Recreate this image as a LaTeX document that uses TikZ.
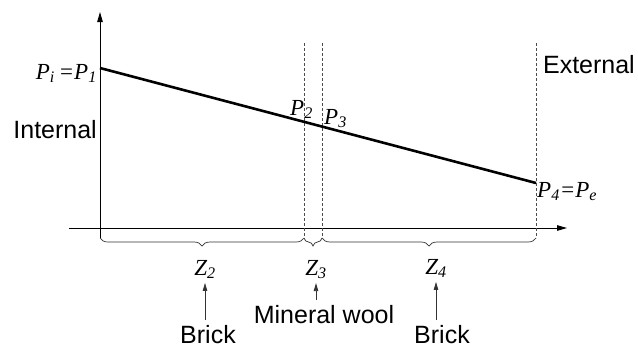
\documentclass[tikz,border=0pt]{standalone}
\usepackage{fontspec}
\setmainfont{Liberation Serif}
\setsansfont{Liberation Sans}
\usetikzlibrary{arrows.meta,decorations.pathreplacing}

\begin{document}
\begin{tikzpicture}[
  x=1bp,y=-1bp,
  lbl/.style={font=\sffamily\fontsize{25bp}{29bp}\selectfont,inner sep=0pt},
  pt/.style={font=\fontsize{23bp}{26bp}\selectfont\itshape,inner sep=0pt},
  axis/.style={black,line width=0.9bp,-{Triangle[length=10bp,width=5.5bp]}},
  wall/.style={black!70,line width=0.8bp,dash pattern=on 3bp off 2bp},
  brc/.style={black!80,line width=0.7bp,decorate,decoration={brace,mirror,amplitude=8bp}},
  up/.style={black!80,line width=0.8bp,shorten <=5bp,shorten >=4bp,-{Triangle[length=8bp,width=4.5bp]}},
  prof/.style={black,line width=2.6bp}
]
  \useasboundingbox (0,0) rectangle (638,347);

  \coordinate (o) at (100,238);
  \coordinate (yt) at (100,12);
  \coordinate (xl) at (69,228);
  \coordinate (xr) at (567,228);
  \coordinate (t2) at (304,43);
  \coordinate (b2) at (304,238);
  \coordinate (t3) at (322,43);
  \coordinate (b3) at (322,238);
  \coordinate (t4) at (536,43);
  \coordinate (b4) at (536,238);
  \coordinate (p1) at (100,68);
  \coordinate (p4) at (536,183);

  \node[lbl,anchor=base east] (int) at (97,138) {Internal};
  \node[lbl,anchor=base east] (ext) at (635,73) {External};
  \node[pt,anchor=base east] (pi) at (97,79) {P\textsubscript{i}\,=P\textsubscript{1}};
  \node[pt,anchor=base west] (l2) at (290,115) {P\textsubscript{2}};
  \node[pt,anchor=base west] (l3) at (324,124) {P\textsubscript{3}};
  \node[pt,anchor=base west] (pe) at (537,197) {P\textsubscript{4}=P\textsubscript{e}};
  \node[pt,anchor=base] (z2) at (205,275) {Z\textsubscript{2}};
  \node[pt,anchor=base] (z3) at (316,275) {Z\textsubscript{3}};
  \node[pt,anchor=base] (z4) at (436,274) {Z\textsubscript{4}};
  \node[lbl,anchor=base] (bk2) at (208,343) {Brick};
  \node[lbl,anchor=base] (mw) at (324,323) {Mineral wool};
  \node[lbl,anchor=base] (bk4) at (442,343) {Brick};

  \draw[axis] (o)--(yt);
  \draw[axis] (xl)--(xr);
  \draw[wall] (t2)--(b2);
  \draw[wall] (t3)--(b3);
  \draw[wall] (t4)--(b4);
  \draw[prof] (p1)--(p4);
  \draw[brc] (o)--(b2);
  \draw[brc] (b2)--(b3);
  \draw[brc] (b3)--(b4);
  \draw[up] (bk2.north -| z2)--(z2.south);
  \draw[up] (mw.north -| z3)--(z3.south);
  \draw[up] (bk4.north -| z4)--(z4.south);
\end{tikzpicture}
\end{document}
